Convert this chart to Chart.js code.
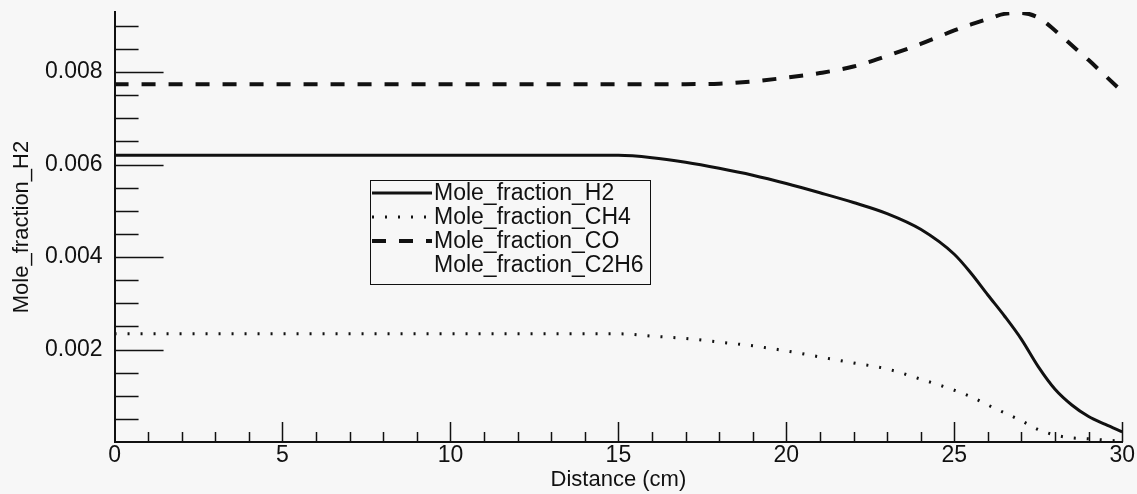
<!DOCTYPE html>
<html>
<head>
<meta charset="utf-8">
<script src="https://cdn.jsdelivr.net/npm/chart.js@4.4.1/dist/chart.umd.min.js"></script>
<style>
  html, body { margin: 0; padding: 0; background: #f7f7f7; }
  #wrap { width: 1137px; height: 494px; }
</style>
</head>
<body>
<div id="wrap"><canvas id="moleChart"></canvas></div>
<script>
// values (distance in cm)
const distance = [0, 2, 4, 6, 8, 10, 12, 14, 15, 16, 17, 18, 19, 20, 21, 22, 23, 24, 25, 25.5, 26, 26.5, 27, 27.5, 28, 28.5, 29, 29.5, 30];
const h2   = [0.0062, 0.0062, 0.0062, 0.0062, 0.0062, 0.0062, 0.0062, 0.0062, 0.0062, 0.00615, 0.00605, 0.00592, 0.00577, 0.00559, 0.00539, 0.00518, 0.00494, 0.0046, 0.00406, 0.00365, 0.00318, 0.00272, 0.00222, 0.00163, 0.00114, 0.0008, 0.00055, 0.00038, 0.00022];
const ch4  = [0.00234, 0.00234, 0.00234, 0.00234, 0.00234, 0.00234, 0.00234, 0.00234, 0.00234, 0.00229, 0.00224, 0.00216, 0.00208, 0.00197, 0.00184, 0.00171, 0.00158, 0.00136, 0.00112, 0.00098, 0.0008, 0.00063, 0.00046, 0.00027, 0.00015, 0.00009, 0.00007, 0.00004, 0.00002];
const co   = [0.00774, 0.00774, 0.00774, 0.00774, 0.00774, 0.00774, 0.00774, 0.00774, 0.00774, 0.00774, 0.00774, 0.00775, 0.0078, 0.00788, 0.00798, 0.00812, 0.00835, 0.00861, 0.0089, 0.00903, 0.00915, 0.00926, 0.00928, 0.00918, 0.0089, 0.00858, 0.00826, 0.00792, 0.00758];
const c2h6 = [0.00001, 0.00001, 0.00001, 0.00001, 0.00001, 0.00001, 0.00001, 0.00001, 0.00001, 0.00001, 0.00001, 0.00001, 0.00001, 0.00001, 0.00001, 0.00001, 0.00001, 0.00001, 0.00001, 0.00001, 0.00001, 0.00001, 0.00001, 0.00001, 0.00001, 0.00001, 0.00001, 0.00001, 0.00001];
const seriesNames = ['Mole_fraction_H2', 'Mole_fraction_CH4', 'Mole_fraction_CO', 'Mole_fraction_C2H6'];
const yTickValues = [0.002, 0.004, 0.006, 0.008];
const xTickValues = [0, 5, 10, 15, 20, 25, 30];

const toPoints = (vals) => vals.map((v, i) => ({ x: distance[i], y: v }));
const ink = '#111';
const FONT = 'Liberation Sans, Arial, Helvetica, sans-serif';

// line looks per series, also used for the legend samples
const looks = [
  { borderColor: ink, borderWidth: 3, borderDash: [] },
  { borderColor: ink, borderWidth: 3, borderDash: [2, 11] },
  { borderColor: ink, borderWidth: 4, borderDash: [14, 13] },
  { borderColor: 'rgba(0,0,0,0)', borderWidth: 1, borderDash: [] }
];

// inward tick marks like the original plot
const innerTicks = {
  id: 'innerTicks',
  afterDatasetsDraw(chart) {
    const { ctx, scales: { x, y } } = chart;
    const left = x.left, bottom = y.bottom;
    ctx.save();
    ctx.strokeStyle = ink;
    ctx.lineWidth = 1.5;
    ctx.beginPath();
    for (let k = 1; k * 0.0005 <= y.max + 1e-9; k++) {
      const py = Math.round(y.getPixelForValue(k * 0.0005)) + 0.5;
      const len = (k % 4 === 0) ? 49 : 24;
      ctx.moveTo(left, py);
      ctx.lineTo(left + len, py);
    }
    for (let k = 1; k <= 30; k++) {
      const px = Math.round(x.getPixelForValue(k)) + 0.5;
      const len = (k % 5 === 0) ? 20 : 10;
      ctx.moveTo(px, bottom);
      ctx.lineTo(px, bottom - len);
    }
    ctx.stroke();
    ctx.restore();
  }
};

// boxed legend sitting inside the plot
const boxLegend = {
  id: 'boxLegend',
  afterDraw(chart) {
    const ctx = chart.ctx;
    const bx = 370, by = 180, bw = 280, bh = 104, row = 24;
    ctx.save();
    ctx.fillStyle = '#f7f7f7';
    ctx.fillRect(bx, by, bw, bh);
    ctx.strokeStyle = ink;
    ctx.lineWidth = 1;
    ctx.strokeRect(bx + 0.5, by + 0.5, bw, bh);
    ctx.font = '23px ' + FONT;
    ctx.textBaseline = 'middle';
    seriesNames.forEach((name, i) => {
      const cy = by + 13 + i * row;
      const lk = looks[i];
      ctx.strokeStyle = lk.borderColor;
      ctx.lineWidth = lk.borderWidth;
      ctx.setLineDash(lk.borderDash);
      ctx.beginPath();
      ctx.moveTo(bx + 2, cy);
      ctx.lineTo(bx + 62, cy);
      ctx.stroke();
      ctx.setLineDash([]);
      ctx.fillStyle = ink;
      ctx.fillText(name, bx + 64, cy + 1);
    });
    ctx.restore();
  }
};

const ctx1 = document.getElementById('moleChart');
const moleChart = new Chart(ctx1, {
  type: 'line',
  data: {
    datasets: seriesNames.map((name, i) => ({
      label: name,
      data: toPoints([h2, ch4, co, c2h6][i]),
      borderColor: looks[i].borderColor,
      borderWidth: looks[i].borderWidth,
      borderDash: looks[i].borderDash,
      cubicInterpolationMode: 'monotone',
      pointRadius: 0,
      fill: false
    }))
  },
  options: {
    responsive: true,
    maintainAspectRatio: false,
    animation: false,
    layout: {
      padding: { left: 11, top: 12, right: 4, bottom: 3 }
    },
    plugins: {
      legend: { display: false },
      tooltip: { enabled: false }
    },
    scales: {
      x: {
        type: 'linear',
        min: 0,
        max: 30,
        afterBuildTicks: (axis) => { axis.ticks = xTickValues.map(v => ({ value: v })); },
        ticks: {
          color: ink,
          font: { family: FONT, size: 23, lineHeight: 1 },
          padding: 2,
          maxRotation: 0
        },
        grid: { display: false, drawTicks: false },
        border: { color: ink, width: 2 },
        title: {
          display: true,
          text: 'Distance (cm)',
          color: ink,
          font: { family: FONT, size: 22, lineHeight: 1 },
          padding: { top: 0, bottom: 0 }
        }
      },
      y: {
        type: 'linear',
        min: 0,
        max: 0.0093,
        afterBuildTicks: (axis) => { axis.ticks = yTickValues.map(v => ({ value: v })); },
        afterFit: (axis) => { axis.paddingTop = 0; axis.paddingBottom = 0; },
        ticks: {
          color: ink,
          font: { family: FONT, size: 23, lineHeight: 1 },
          padding: 12,
          callback: (v) => v.toFixed(3)
        },
        grid: { display: false, drawTicks: false },
        border: { color: ink, width: 2 },
        title: {
          display: true,
          text: 'Mole_fraction_H2',
          color: ink,
          font: { family: FONT, size: 22, lineHeight: 1 },
          padding: { top: 0, bottom: 0 }
        }
      }
    }
  },
  plugins: [innerTicks, boxLegend]
});
</script>
</body>
</html>
